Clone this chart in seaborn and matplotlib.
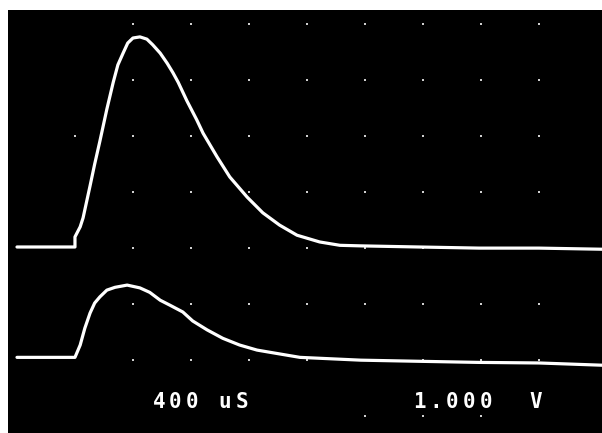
import matplotlib
matplotlib.use("Agg")
import matplotlib.pyplot as plt
import seaborn as sns
import pandas as pd

# Oscilloscope screen: 400 uS/div horizontally, 1 V/div vertically
# values in screen divisions
upper_x = [0.00, 1.00, 1.00, 1.09, 1.14, 1.26, 1.34, 1.43, 1.55, 1.66, 1.74, 1.83,
           1.91, 2.00, 2.12, 2.24, 2.34, 2.47, 2.59, 2.69, 2.78, 2.93, 3.10, 3.21,
           3.45, 3.67, 3.97, 4.24, 4.53, 4.83, 5.22, 5.57, 5.93, 6.93, 7.97, 9.00, 10.09]
upper_y = [3.02, 3.02, 3.20, 3.38, 3.54, 4.11, 4.50, 4.91, 5.48, 5.96, 6.27, 6.48,
           6.66, 6.75, 6.77, 6.73, 6.63, 6.48, 6.30, 6.13, 5.96, 5.63, 5.29, 5.05,
           4.63, 4.27, 3.91, 3.63, 3.41, 3.23, 3.11, 3.05, 3.04, 3.02, 3.00, 3.00, 2.98]

lower_x = [0.00, 1.00, 1.09, 1.17, 1.26, 1.34, 1.43, 1.55, 1.69, 1.90, 2.12, 2.29,
           2.47, 2.64, 2.86, 3.03, 3.28, 3.55, 3.84, 4.14, 4.48, 4.88, 5.93, 6.93,
           7.97, 9.00, 10.09]
lower_y = [1.05, 1.05, 1.27, 1.57, 1.84, 2.02, 2.13, 2.25, 2.30, 2.34, 2.29, 2.21,
           2.07, 1.98, 1.86, 1.70, 1.54, 1.39, 1.27, 1.18, 1.12, 1.05, 1.00, 0.98,
           0.96, 0.95, 0.91]

# graticule dots (column, row) that show on the screen
grid_cols = [2, 3, 4, 5, 6, 7, 8, 9]
grid_rows = [1, 2, 3, 4, 5, 6, 7]
extra_dots = [(1, 5), (6, 0), (7, 0), (8, 0)]

time_label = "400 uS"
volt_label = "1.000  V"

dots = pd.DataFrame([(c, r) for c in grid_cols for r in grid_rows] + extra_dots,
                    columns=["col", "row"])

sns.set_style("dark")
fig = plt.figure(figsize=(6.02, 4.33), dpi=100, facecolor="white")
ax = fig.add_axes([8 / 602, 0, 594 / 602, 423 / 433])
ax.set_facecolor("black")

sns.scatterplot(data=dots, x="col", y="row", ax=ax, color="#cfcfcf", s=3,
                marker="s", linewidth=0)
for xs, ys in [(upper_x, upper_y), (lower_x, lower_y)]:
    sns.lineplot(x=xs, y=ys, ax=ax, sort=False, estimator=None,
                 color="white", linewidth=2.3, solid_joinstyle="round",
                 solid_capstyle="round")

ax.set_xlim(-0.155, 10.09)
ax.set_ylim(-0.30, 7.25)
ax.set_xticks([])
ax.set_yticks([])
ax.set_xlabel("")
ax.set_ylabel("")
for sp in ax.spines.values():
    sp.set_visible(False)

# readout text, one character per cell like the scope display
def readout(label, x0, pitch=16.5, base=407.5):
    for i, ch in enumerate(label):
        if ch != " ":
            fig.text((x0 + i * pitch) / 602, 1 - base / 433, ch, ha="center",
                     va="baseline", color="white", fontsize=15,
                     family="DejaVu Sans Mono", fontweight="bold")

readout(time_label, 159)
readout(volt_label, 419, pitch=16.7)

fig.savefig("out.png", dpi=100, facecolor="white")
